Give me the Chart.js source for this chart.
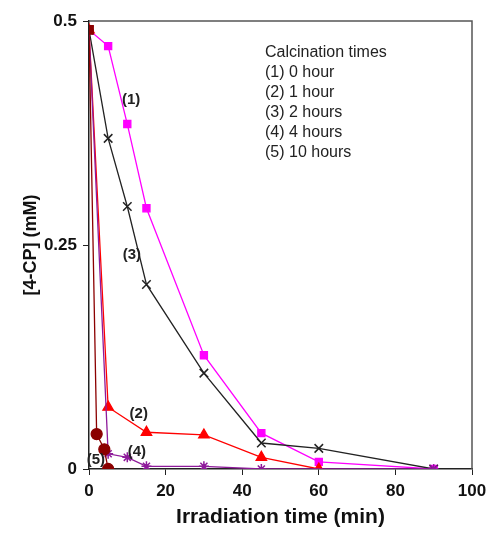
<!DOCTYPE html>
<html>
<head>
<meta charset="utf-8">
<script src="https://cdn.jsdelivr.net/npm/chart.js@4"></script>
<style>
  html, body { margin: 0; padding: 0; background: #fff; }
  #wrap { width: 489px; height: 534px; }
</style>
</head>
<body>
<div id="wrap"><canvas id="chart" width="489" height="534"></canvas></div>
<script>
// data (time in min, [4-CP] in mM)
const xTicks = [0, 20, 40, 60, 80, 100];
const yTicks = [0, 0.25, 0.5];

const t1 = [0, 5, 10, 15, 30, 45, 60, 90];
const c1 = [0.49, 0.472, 0.385, 0.291, 0.127, 0.040, 0.008, 0];   // (1) 0 hour

const t2 = [0, 5, 15, 30, 45, 60];
const c2 = [0.49, 0.069, 0.041, 0.038, 0.013, 0];                 // (2) 1 hour

const t3 = [0, 5, 10, 15, 30, 45, 60, 90];
const c3 = [0.49, 0.369, 0.293, 0.206, 0.107, 0.029, 0.023, 0];   // (3) 2 hours

const t4 = [0, 5, 10, 15, 30, 45, 90];
const c4 = [0.49, 0.017, 0.013, 0.003, 0.003, 0, 0];              // (4) 4 hours

const t5 = [0, 2, 4, 5];
const c5 = [0.49, 0.039, 0.022, 0];                               // (5) 10 hours

const legendLines = ['Calcination times', '(1) 0 hour', '(2) 1 hour', '(3) 2 hours', '(4) 4 hours', '(5) 10 hours'];

// curve labels, placed at data coordinates
const curveLabels = [
  { text: '(1)', x: 11, y: 0.412 },
  { text: '(3)', x: 11.2, y: 0.239 },
  { text: '(2)', x: 13, y: 0.062 },
  { text: '(4)', x: 12.5, y: 0.019 },
  { text: '(5)', x: 1.8, y: 0.010 }
];

function pts(xs, ys) {
  return xs.map((x, i) => ({ x: x, y: ys[i] }));
}

const frame = {
  id: 'frame',
  afterDraw(chart) {
    const { ctx, chartArea: a, scales } = chart;
    ctx.save();
    // top and right edges of the box
    ctx.strokeStyle = '#555';
    ctx.lineWidth = 1.5;
    ctx.beginPath();
    ctx.moveTo(a.left, a.top);
    ctx.lineTo(a.right, a.top);
    ctx.lineTo(a.right, a.bottom);
    ctx.stroke();

    // curve labels
    ctx.fillStyle = '#222';
    ctx.font = 'bold 15px "Liberation Sans", Arial, sans-serif';
    ctx.textAlign = 'center';
    ctx.textBaseline = 'middle';
    curveLabels.forEach(l => {
      ctx.fillText(l.text, scales.x.getPixelForValue(l.x), scales.y.getPixelForValue(l.y));
    });

    // legend text block
    ctx.font = '16px "Liberation Sans", Arial, sans-serif';
    ctx.textAlign = 'left';
    legendLines.forEach((s, i) => {
      ctx.fillText(s, 265, 53 + i * 20);
    });
    ctx.restore();
  }
};

const tickFont = { family: '"Liberation Sans", Arial, sans-serif', size: 17, weight: 'bold' };

new Chart(document.getElementById('chart').getContext('2d'), {
  type: 'scatter',
  data: {
    datasets: [
      {
        label: '(5) 10 hours', data: pts(t5, c5), order: 0,
        borderColor: '#8b0000', backgroundColor: '#8b0000',
        pointStyle: ['rect', 'circle', 'circle', 'circle'], pointRadius: [6, 5.5, 5.5, 5.5]
      },
      {
        label: '(4) 4 hours', data: pts(t4, c4), order: 1,
        borderColor: '#8e1a9a', backgroundColor: '#8e1a9a',
        pointStyle: 'star', pointRadius: 5, pointBorderWidth: 1.5
      },
      {
        label: '(2) 1 hour', data: pts(t2, c2), order: 2,
        borderColor: '#ff0000', backgroundColor: '#ff0000',
        pointStyle: 'triangle', pointRadius: 6
      },
      {
        label: '(3) 2 hours', data: pts(t3, c3), order: 3,
        borderColor: '#222', backgroundColor: '#222',
        pointStyle: 'crossRot', pointRadius: 6, pointBorderWidth: 1.5
      },
      {
        label: '(1) 0 hour', data: pts(t1, c1), order: 4,
        borderColor: '#ff00ff', backgroundColor: '#ff00ff',
        pointStyle: 'rect', pointRadius: 5
      }
    ].map(d => Object.assign({ showLine: true, borderWidth: 1.3 }, d))
  },
  options: {
    responsive: false,
    animation: false,
    layout: { padding: { left: 0, right: 17, top: 21, bottom: 0 } },
    plugins: {
      legend: { display: false },
      tooltip: { enabled: false }
    },
    scales: {
      x: {
        type: 'linear', min: 0, max: 100,
        afterBuildTicks: s => { s.ticks = xTicks.map(v => ({ value: v })); },
        afterFit: s => { s.height = 65; s.paddingLeft = 0; s.paddingRight = 0; },
        grid: { drawOnChartArea: false, drawTicks: true, tickLength: 6, color: '#222' },
        border: { color: '#222', width: 1.5 },
        ticks: { color: '#111', font: tickFont, padding: 6, maxRotation: 0, callback: v => String(v) },
        title: {
          display: true, text: 'Irradiation time (min)', color: '#111',
          font: { family: '"Liberation Sans", Arial, sans-serif', size: 21, weight: 'bold' },
          padding: { top: 11 }
        }
      },
      y: {
        type: 'linear', min: 0, max: 0.5,
        afterBuildTicks: s => { s.ticks = yTicks.map(v => ({ value: v })); },
        afterFit: s => { s.width = 89; },
        grid: { drawOnChartArea: false, drawTicks: true, tickLength: 6, color: '#222' },
        border: { color: '#222', width: 1.5 },
        ticks: { color: '#111', font: tickFont, padding: 6, callback: v => String(v) },
        title: {
          display: true, text: '[4-CP] (mM)', color: '#111',
          font: { family: '"Liberation Sans", Arial, sans-serif', size: 18, weight: 'bold' },
          padding: { top: 20, bottom: 4 }
        }
      }
    }
  },
  plugins: [frame]
});
</script>
</body>
</html>
